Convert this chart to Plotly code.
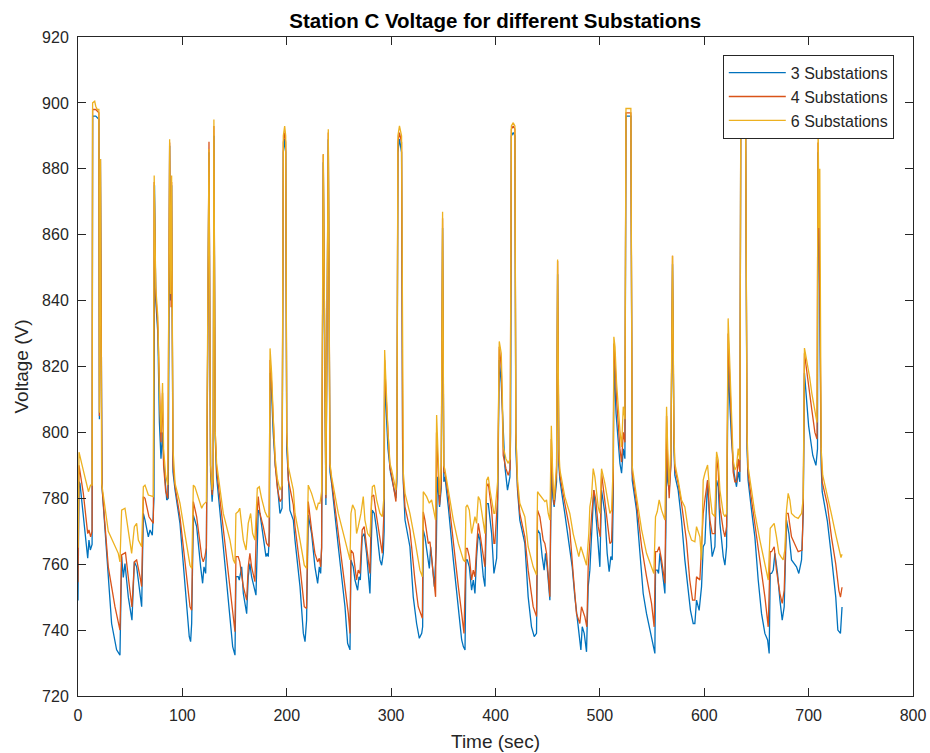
import plotly.graph_objects as go

# Station C voltage samples (time in s, voltage in V) for each substation layout
sub3 = [
    (0, 749), (1, 785), (1.9, 784.5), (5.1, 775.4), (7.7, 767.3), (9.3, 761.8), (10.5, 767.3), (11.8, 764.3),
    (13.5, 766), (14, 896), (17, 896), (20, 895), (20.5, 804), (21.5, 883), (23, 783.5), (29, 756.2),
    (32.2, 742), (37, 734), (40.2, 732.4), (41.8, 762.3), (43.4, 756), (45, 760.2), (48.2, 750), (51.7, 743),
    (54, 760.7), (56.2, 759.2), (59.4, 751.1), (61, 747.1), (62.6, 775.4), (64.2, 773.4), (67.4, 768.3),
    (69, 770.4), (71.2, 768.8), (72.8, 780), (73.3, 875), (74.5, 840), (76.5, 830), (78, 803), (79.5, 792),
    (81, 800), (82, 791.6), (85, 779.5), (86.5, 780), (87.8, 887), (88.6, 840), (89.7, 875), (91, 788),
    (93, 782.5), (97.7, 772.4), (106.6, 738), (107.9, 736.5), (108.9, 742), (110.5, 774.9), (113.7, 771.4),
    (117.5, 759.2), (119.4, 754.2), (120.7, 759.2), (122.3, 757.2), (123, 765), (125.5, 885), (127, 788),
    (128.5, 779), (129.5, 784), (130.2, 890), (131.5, 798), (132.8, 786.5), (139.2, 765.3), (145.6, 745),
    (148.2, 735), (150.4, 732.4), (151.3, 756.2), (153.5, 756.2), (154.5, 755.2), (156.8, 759.2),
    (158.4, 751.1), (161.6, 745), (163.1, 756.2), (164.7, 760.2), (166.3, 756.2), (170.5, 750.6),
    (172.7, 776.4), (174.3, 775.4), (177.5, 768.3), (180.1, 762.3), (181.4, 763.3), (182.3, 762.3),
    (183.5, 770), (184, 818), (185.5, 812), (187, 800), (189, 790), (190.3, 786.5), (193.5, 775.4),
    (195.5, 777), (196.7, 885), (198, 889), (199, 885), (200, 795), (201.5, 786.5), (203, 776.4),
    (206.3, 773.4), (207.9, 767.3), (212.7, 753.2), (215.9, 739), (217.5, 736.5), (219, 743), (220.6, 774.9),
    (223.8, 769.3), (227, 759.2), (229.6, 754.2), (231.2, 759.2), (232.5, 757.2), (233.4, 765), (235, 882),
    (237.5, 778), (239.8, 889), (241.4, 788), (243, 784.5), (249.4, 765.3), (255.8, 747.1), (258.3, 736),
    (260.6, 734), (261.5, 761.3), (263.7, 759.2), (265.4, 755.2), (267.9, 752.1), (269.2, 756.2),
    (270.5, 755.2), (272.3, 768.3), (274.2, 769.3), (276.5, 763.3), (279.7, 751.1), (281.9, 776.4),
    (283.9, 775.4), (286.1, 770.4), (289.3, 761.3), (290.9, 759.7), (292.5, 763.3), (293.3, 770),
    (293.8, 818), (295, 808), (297, 795), (299.5, 787.6), (304.6, 780), (305.5, 785), (306.5, 885),
    (308, 889), (310, 885), (311, 795), (311.7, 784.5), (313.3, 773.4), (318, 765.3), (321.2, 750.1),
    (324.4, 742), (327, 737.5), (329.3, 739), (330.2, 741), (330.8, 770.4), (332.4, 768.3), (334.7, 762.3),
    (336.6, 758.7), (337.9, 765.3), (339.5, 759.2), (341.4, 753.2), (343.3, 765), (344.2, 786.5),
    (346.4, 777.4), (348, 783), (349.3, 862), (350.5, 785), (351.6, 786.5), (354.8, 777.4), (359.6, 761.3),
    (364.4, 747.1), (367.6, 737), (369.2, 735), (370.8, 734), (371.7, 761.3), (373, 761.3), (374.9, 759.2),
    (377.1, 752.1), (378.7, 755.2), (380.3, 751.1), (381.9, 762.3), (383.5, 769.3), (385.1, 767.3),
    (388.3, 756.2), (389.9, 753.2), (391.5, 778.4), (393.1, 778.4), (396.3, 769.3), (398.5, 757.2),
    (401.1, 761.8), (402, 775), (403.6, 822), (405.5, 815), (407.4, 800), (409, 789.6), (411.5, 782.5),
    (413.8, 786.5), (414.5, 800), (415.2, 890), (417, 891), (418.6, 890), (419.5, 795), (421.1, 782.5),
    (423.3, 773.4), (428.1, 766.3), (431.3, 750.1), (434.5, 741), (437.1, 738), (439.3, 739), (440.3, 770.4),
    (442.5, 769.3), (444.7, 762.3), (446.6, 758.2), (447.9, 763.3), (449.5, 759.2), (452.1, 749.1),
    (453.5, 788.6), (455, 780), (456.2, 777.4), (458.5, 785), (459.5, 848), (460.7, 790), (461.7, 785.5),
    (466.4, 775.4), (471.2, 765.3), (473.5, 759.2), (476, 750.1), (479.2, 741), (480.8, 735), (481.8, 734),
    (483.1, 741), (485, 739), (487.2, 733.4), (488.8, 753.2), (490.4, 758.2), (492.6, 770.4), (494.2, 782.5),
    (496.1, 775.4), (498.4, 764.3), (500, 759.2), (501.6, 782.5), (504.8, 775.4), (507, 763.3),
    (508.9, 757.7), (510.5, 762.3), (511.8, 761.3), (512.8, 780), (513.4, 822), (515.5, 805.8),
    (517.6, 797.7), (519.2, 790.6), (520.8, 787.6), (522.4, 795), (524, 792), (525, 896), (529.7, 896),
    (530.5, 810), (531, 785.5), (535.1, 776.4), (538.3, 763.3), (541.5, 751.1), (544.7, 745), (547.9, 740),
    (551.1, 736), (552.7, 732.9), (553.3, 758.2), (555, 758.2), (556.2, 757.2), (557.5, 763.3),
    (559.7, 758.2), (562.3, 751.1), (563.2, 770), (563.9, 795), (565, 785), (566.4, 782.5), (568, 790),
    (569.6, 851), (571, 795), (571.8, 787), (575, 782.5), (578.2, 773.4), (581.4, 761.3), (584.6, 753.2),
    (586.8, 746), (589.4, 742), (591, 742), (592.6, 749.1), (595.1, 746), (597.4, 753.2), (599, 765.3),
    (600.6, 766.3), (603.2, 785.5), (605.4, 771.4), (607.6, 762.3), (610.2, 765.3), (611.8, 785.5),
    (613.4, 783.5), (615, 772.4), (618.2, 762.3), (619.8, 759.7), (621.4, 765.3), (622.2, 790), (622.9, 822),
    (624, 812), (626.1, 798), (628.6, 787.6), (630.9, 783.5), (632.5, 788), (634.1, 785), (635, 896),
    (639.6, 896), (641, 795), (642, 785.5), (645.3, 776.4), (648.5, 768.3), (651.7, 755.2), (654.9, 745),
    (658.1, 739), (660.7, 737), (662.2, 732.9), (663.2, 757.2), (664.5, 757.2), (666.1, 758.2),
    (667.7, 763.3), (670.2, 757.2), (672.5, 749.1), (674.7, 743), (676.6, 747.1), (678.8, 773.4),
    (681.1, 769.3), (683.6, 761.3), (686.2, 760.2), (688.4, 759.2), (690.6, 757.2), (693.2, 761.3),
    (694.8, 775), (696, 818), (697.5, 812), (700, 802), (704, 793), (707, 790), (708.5, 795), (709, 885),
    (710.5, 845), (712, 790), (713, 782), (718, 773), (722, 762), (726, 750), (728, 740), (730.5, 739),
    (732, 747),
]

sub4 = [
    (0, 754.5), (1, 790), (5.1, 781.5), (8.3, 772.4), (9.3, 769.3), (10.5, 770.4), (12.1, 768.3),
    (13.5, 770), (14, 898), (17, 898), (20, 897), (20.5, 805), (21.5, 883), (23, 783.5), (29, 759.2),
    (35.4, 747.1), (40.2, 740), (41.8, 762.8), (45.5, 763.5), (48.2, 756), (51.7, 747), (54, 760.7),
    (56.2, 761.3), (59.4, 756.2), (61, 753.2), (62.6, 780.5), (64.2, 780), (68, 774.4), (72.2, 772.4),
    (73, 876), (74.5, 842), (76.5, 832), (78, 810), (79.5, 797), (81, 812), (82, 790), (84, 782), (86, 780),
    (87.8, 888), (88.5, 846), (89.2, 838), (89.7, 876), (91, 790), (93, 783.5), (97.7, 774.4),
    (107.3, 747.1), (108.9, 746), (110.5, 779), (113.7, 774.4), (118.5, 762.3), (120, 760.7),
    (121.6, 762.3), (123, 765), (125.5, 888.2), (127, 790), (128.5, 781), (129.5, 785), (130.2, 893),
    (131.5, 800), (132.8, 788.6), (139.2, 770.4), (145.6, 753.2), (148.8, 745), (150.4, 739.5),
    (151.3, 762.3), (153.5, 762.3), (155, 760.7), (158.4, 753.2), (161.6, 749.1), (163.1, 759.2),
    (164.7, 763.3), (166.3, 759.2), (169.5, 754.7), (171.1, 773.4), (172.7, 780.5), (174.3, 775.4),
    (177.5, 771.4), (180.7, 766.3), (183, 765.3), (184, 822), (185.5, 815), (187, 803), (189, 790),
    (191, 783), (193.5, 779), (195.5, 780), (196.7, 888), (198, 891), (199, 888), (200, 800), (201.5, 785.5),
    (206.3, 778), (207.9, 771.4), (212.7, 759.2), (216.8, 747.1), (219, 746.6), (220.6, 779),
    (223.8, 770.4), (227, 763.3), (229.6, 760.7), (231.2, 761.8), (232.5, 759.2), (233.4, 765),
    (235, 884.4), (237.5, 780), (239.8, 891), (241.4, 790), (243, 785.5), (249.4, 769.3), (255.8, 753.2),
    (259, 745), (260.6, 739), (261.5, 764.3), (263.7, 763.3), (265.4, 759.2), (266.9, 755.2),
    (268.5, 758.2), (270.1, 757.2), (272.3, 770.4), (274.2, 771.4), (276.5, 765.3), (279.7, 757.2),
    (281.3, 780.5), (283.3, 781), (286.1, 774.4), (289.3, 767.3), (291.5, 763.3), (293, 775), (293.8, 822),
    (295, 812), (297, 798), (298.9, 789), (300.5, 787), (304.6, 779), (305.5, 788), (306.5, 888), (308, 891),
    (310, 888), (311, 798), (311.7, 785.5), (313.3, 777.4), (318, 770.4), (322.8, 755.2), (326, 747.1),
    (329.9, 743.6), (330.8, 775.9), (332.4, 773.4), (335.6, 766.3), (337.2, 766.8), (338.8, 761.3),
    (340.4, 757.2), (342.6, 750.1), (343.5, 800), (345, 788), (346.4, 778), (348, 785), (349.3, 865),
    (350.5, 788), (351.6, 787.6), (354.8, 780.5), (359.6, 766.3), (364.4, 753.2), (367.6, 745),
    (369.8, 739), (371.7, 764.8), (373, 764.8), (374.9, 762.3), (377.1, 755.2), (378.7, 758.2),
    (380.3, 756.2), (381.9, 765.3), (383.5, 772.4), (385.1, 769.3), (387.6, 763.3), (389.9, 759.2),
    (391.5, 783.5), (393.1, 784.5), (396.3, 776.4), (398.5, 766.3), (399.4, 766.3), (402, 780),
    (403.6, 826), (405.5, 820), (406.5, 808), (407.4, 793), (410, 789), (412.2, 787), (414, 789),
    (415.2, 892), (417, 893), (418.6, 892), (419.5, 800), (421.1, 783.5), (423.3, 775.4), (428.1, 768.3),
    (431.3, 758.2), (436.1, 747.1), (439.3, 744.1), (440.3, 776.4), (442.5, 774.4), (445.7, 767.3),
    (447.3, 766.3), (448.9, 763.3), (452.1, 750.1), (453.5, 798), (455, 783), (456.2, 778), (458.5, 788),
    (459.5, 852), (460.7, 792), (461.7, 787), (466.4, 778.5), (471.2, 770.4), (474.4, 757.2), (477.6, 745),
    (480.8, 742), (482.4, 747.1), (485.6, 744), (487.5, 741), (488.8, 759.2), (490.4, 767.3),
    (492, 774.4), (494.2, 782.5), (496.1, 779.5), (498.4, 771.4), (500.3, 768.3), (501.6, 787.6),
    (504.8, 779.5), (508, 771.4), (509.6, 766.3), (511.2, 766.8), (512.8, 785), (513.4, 827),
    (514.5, 822), (516, 810), (518, 800), (519.2, 795), (520.8, 791), (522.4, 800), (524, 797), (525, 897),
    (529.7, 897), (530.5, 815), (531, 787.6), (535.1, 778.5), (540, 765.3), (544.7, 756.2), (549.5, 748.1),
    (552, 741), (553.3, 763.8), (555, 763.8), (556.8, 765.3), (559.1, 761.3), (562.3, 754.2), (563.2, 780),
    (563.9, 805), (565, 790), (566.4, 780), (568, 790), (569.6, 853.6), (571, 798), (571.8, 789),
    (575, 784.5), (578.2, 778.5), (582.9, 767.3), (586.1, 755.2), (588.8, 749.1), (591, 749.1),
    (592.6, 756.2), (595.8, 755.2), (597.4, 765.3), (599, 775.4), (600.6, 779.5), (603.2, 785.5),
    (605.4, 773.4), (607.6, 769.3), (610.2, 769.3), (611.8, 792.6), (613.4, 788), (615, 777.4),
    (618.2, 770.4), (619.8, 768.3), (621.4, 771.4), (622.2, 795), (622.9, 830), (624, 820), (626.1, 803),
    (627.7, 788), (629.3, 785), (630.9, 785), (632.5, 792), (634.1, 788), (635, 897), (639.6, 897),
    (641, 798), (642, 787.6), (645.3, 779.5), (648.5, 772.4), (653.3, 760.2), (658.1, 750.1), (661.3, 741),
    (663.2, 763.8), (664.5, 763.8), (667, 765.3), (669.2, 758.2), (672.5, 751.1), (674.7, 748.1),
    (676.6, 752.1), (678.8, 775.4), (680.4, 775.4), (683.6, 768.3), (686.8, 766.3), (690, 763.8),
    (693.8, 764.3), (694.8, 778), (696, 824), (697.5, 820), (699.5, 815), (701, 812), (703, 807),
    (706, 800), (708, 798), (709, 888), (710, 847), (710.8, 839), (712, 795), (713, 785), (718, 778),
    (722, 768), (726, 760), (729, 752), (730.5, 750), (732, 753),
]

sub6 = [
    (0, 765), (1, 794), (3.5, 790.6), (6.7, 786.5), (10, 782), (12, 784), (13.5, 784), (14, 900),
    (16, 900.5), (17, 899), (18.5, 898), (20, 898), (20.5, 806), (21.5, 883), (22.7, 784.5), (29, 770),
    (33, 767), (38.6, 763.3), (40.2, 760.7), (41.8, 776.4), (45, 777), (48.2, 769.3), (51.4, 763.3),
    (54, 771.4), (56.2, 772.4), (57.8, 767.3), (61, 765.3), (62.6, 783.5), (64.2, 784), (67.4, 781),
    (72.2, 780.5), (73, 878), (74.5, 844), (76.5, 835), (78, 812), (79.5, 800), (81, 815), (82, 795),
    (84, 787), (86, 784), (87.8, 889), (88.7, 842), (89.7, 878), (91, 795), (93, 784.5), (97.7, 778.5),
    (102.5, 769), (107.3, 759.7), (109, 758.7), (110.5, 784), (112, 783.5), (115, 780.5), (118.5, 777),
    (120, 778), (121.6, 778.5), (123, 779), (125.5, 886), (127, 790), (128.5, 782.5), (129.5, 786),
    (130.2, 895), (131.5, 800), (132.8, 790.6), (139.2, 775.4), (145.6, 767.3), (148.8, 761.3),
    (150.4, 760.2), (151.3, 775.4), (153.5, 776), (155, 777), (158.4, 767.3), (161, 764.3), (163.1, 772.4),
    (165.4, 775.4), (167.3, 769.3), (169.5, 767.3), (171.8, 783), (173.7, 783.5), (175.9, 780),
    (179.1, 776), (181.4, 774.4), (183.2, 774.4), (184, 825.5), (185.5, 818), (187, 805), (189, 792),
    (191, 786), (193.5, 782.5), (195.5, 784), (196.7, 890), (198, 893), (199, 890), (200, 800),
    (201.5, 789.6), (206.3, 782.5), (207.9, 775.4), (212.7, 767.3), (216.8, 759.7), (219, 758.7),
    (220.6, 784), (223.8, 781.5), (227, 778), (228.6, 776.4), (230.2, 778.5), (231.8, 778.5), (233.4, 782),
    (235, 884.4), (237.5, 781), (239.8, 892), (241.4, 790.6), (243, 786.5), (249.4, 775.4), (255.8, 767.3),
    (259, 763.3), (260.6, 761.3), (261.5, 775.4), (263.1, 778), (265.4, 776.4), (266.9, 769.3),
    (268.5, 771.4), (271.1, 775.4), (273.3, 780.5), (274.9, 773.4), (277.5, 769.3), (279.7, 768.3),
    (282, 783.5), (283.9, 784), (286.1, 779.5), (289.3, 775.4), (291.5, 774.4), (293, 780), (293.8, 825),
    (295, 815), (297, 800), (298.9, 790.6), (300.5, 788.6), (304.6, 782.5), (305.5, 790), (306.5, 890),
    (308, 893), (310, 890), (311, 800), (311.7, 787.6), (313.3, 781.5), (318, 775.4), (322.8, 767.3),
    (327.6, 758.2), (329.9, 756.2), (330.8, 782), (334, 780.5), (336.6, 778.5), (338.8, 779.5),
    (340.4, 776.4), (342.6, 773.4), (343.6, 805.3), (345, 790), (346.4, 781), (348, 790), (349.3, 867),
    (350.5, 790), (351.6, 788.6), (354.8, 782.5), (359.6, 773.4), (364.4, 766.3), (369.2, 761.3),
    (370.8, 760.7), (371.7, 777.4), (373, 778), (374.9, 776.4), (377.1, 769.3), (378.7, 771.4),
    (380.3, 774.4), (381.9, 772.4), (383.5, 780.5), (385.1, 779.5), (387.6, 773.4), (389.9, 769.3),
    (391.5, 785.5), (393.1, 786.5), (394.7, 782.5), (398.5, 775.4), (399.4, 775.4), (402, 785),
    (403.6, 827.6), (405.5, 824), (406.5, 812), (407.4, 795.6), (410, 792), (412.2, 790.6), (414, 792),
    (415.2, 893), (417, 894), (418.6, 893), (419.5, 800), (421.1, 785.5), (423.3, 778.5), (428.1, 774.4),
    (431.3, 765.3), (436.1, 759.2), (439.3, 756.7), (440.3, 782), (442.5, 781), (445.7, 779.5),
    (447.3, 779), (448.9, 779.5), (450.5, 775.4), (452.1, 773.4), (453.5, 802), (455, 785), (456.2, 779.5),
    (458.5, 790), (459.5, 852.5), (460.7, 795), (461.7, 788.6), (466.4, 780.5), (471.2, 775.4),
    (474.4, 769.3), (477.6, 765.3), (479.8, 762.3), (481.8, 765.3), (484, 763.3), (485.6, 761.3),
    (487.2, 759.7), (489.4, 769.3), (490.4, 777.4), (492, 780.5), (493.6, 789), (495.2, 786.5),
    (498.4, 777.4), (500, 775.4), (501.6, 789), (504.8, 784.5), (508, 777.4), (509.6, 775.4),
    (511.2, 776.4), (512.8, 790), (513.4, 829), (514.5, 826), (516, 815), (518, 805), (519.2, 800.7),
    (520.8, 795.6), (522.4, 807.8), (524, 804), (525, 898.3), (529.7, 898.3), (530.5, 820), (531, 789.6),
    (535.1, 780.5), (540, 770.4), (544.7, 763.3), (549.5, 759.2), (551.7, 757.2), (553.3, 774.4),
    (555, 776), (556.8, 779.5), (559.1, 776.4), (562.3, 773.4), (563.2, 790), (563.9, 807.8), (565, 795),
    (566.4, 784), (568, 795), (569.6, 853.6), (571, 800), (571.8, 790.6), (575, 785.5), (578.2, 779.5),
    (581.4, 777.4), (584.6, 770.4), (587.8, 767.3), (591, 766.8), (592.6, 771.4), (595.8, 768.3),
    (597.4, 761.3), (599, 785.5), (600.6, 787.6), (603.2, 790.1), (605.4, 781.5), (607.6, 775.4),
    (610.2, 774.4), (611.8, 794.1), (613.4, 791.6), (615, 782.5), (618.2, 775.4), (619.8, 774.4),
    (621.4, 775.4), (622.2, 800), (622.9, 834.6), (624, 825), (626.1, 805.8), (627.7, 791.6),
    (629.3, 788.6), (630.9, 789.6), (632.5, 795.1), (634.1, 791.6), (635, 898), (639.6, 898), (641, 800),
    (642, 789.6), (645.3, 782.5), (648.5, 775.4), (653.3, 767.3), (658.1, 760.2), (661.3, 755.2),
    (663.2, 770.9), (664.5, 771.4), (667, 772.4), (669.2, 768.3), (671.5, 763.3), (673.4, 762.3),
    (675.6, 761.3), (677.2, 764.3), (678.8, 776.4), (680.4, 781.5), (682, 779.5), (683.6, 775.4),
    (686.8, 774.4), (690, 773.9), (693.2, 775.4), (694.8, 780), (696, 825.6), (697.5, 823), (699.5, 819.5),
    (701, 816.7), (703, 812), (706, 806), (708, 803), (709.1, 893), (710, 862), (710.7, 880), (712, 795),
    (713.5, 787), (718, 781), (722, 775), (726, 769), (729, 765), (731, 762), (732, 763),
]

series_names = ["3 Substations", "4 Substations", "6 Substations"]
series_colors = ["#0072BD", "#D95319", "#EDB120"]
x_ticks = list(range(0, 801, 100))
y_ticks = list(range(720, 921, 20))

FONT = "Liberation Sans, Arial, Helvetica, sans-serif"
AXIS_COLOR = "#262626"

fig = go.Figure()
for name, samples, color in zip(series_names, [sub3, sub4, sub6], series_colors):
    t = [s[0] for s in samples]
    v = [s[1] for s in samples]
    fig.add_trace(go.Scatter(x=t, y=v, mode="lines", name=name,
                             line=dict(color=color, width=1.3)))

axis_style = dict(
    showline=True, linecolor=AXIS_COLOR, linewidth=1, mirror="ticks",
    ticks="inside", ticklen=8, tickwidth=1, tickcolor=AXIS_COLOR,
    showgrid=False, zeroline=False, automargin=False,
    tickfont=dict(family=FONT, size=16, color=AXIS_COLOR),
)

fig.update_xaxes(range=[0, 800], tickvals=x_ticks, ticktext=[str(v) for v in x_ticks],
                 ticklabelstandoff=5, **axis_style)
fig.update_yaxes(range=[720, 920], tickvals=y_ticks, ticktext=[str(v) for v in y_ticks],
                 ticklabelstandoff=5, **axis_style)

label_font = dict(family=FONT, size=19, color=AXIS_COLOR)
fig.add_annotation(text="Time (sec)", xref="paper", yref="paper", x=0.5, y=0,
                   xanchor="center", yanchor="middle", yshift=-45, showarrow=False,
                   font=label_font)
fig.add_annotation(text="Voltage (V)", xref="paper", yref="paper", x=0, y=0.5,
                   xanchor="center", yanchor="middle", xshift=-57, textangle=-90,
                   showarrow=False, font=label_font)

fig.update_layout(
    template="none",
    width=930, height=753,
    margin=dict(l=78, r=17, t=37, b=57),
    plot_bgcolor="white", paper_bgcolor="white",
    title=dict(text="<b>Station C Voltage for different Substations</b>",
               x=0.5325, xanchor="center", y=0.973, yanchor="middle",
               font=dict(family=FONT, size=20.5, color="#000000")),
    legend=dict(x=0.977, y=0.973, xanchor="right", yanchor="top",
                bgcolor="white", bordercolor=AXIS_COLOR, borderwidth=1,
                font=dict(family=FONT, size=16, color=AXIS_COLOR),
                itemwidth=57, tracegroupgap=0),
    showlegend=True,
)

fig.write_html("out.html")
